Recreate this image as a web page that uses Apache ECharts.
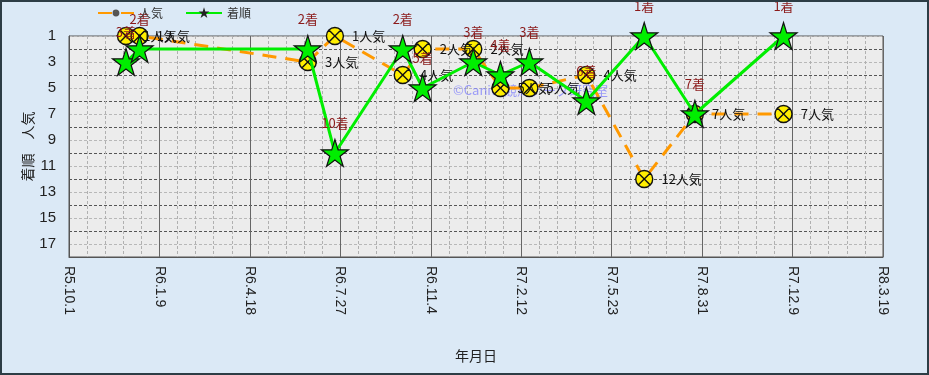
<!DOCTYPE html>
<html><head><meta charset="utf-8">
<script src="https://cdn.jsdelivr.net/npm/echarts@6/dist/echarts.min.js"></script>
<style>html,body{margin:0;padding:0;background:#dbe9f6;}#c{width:929px;height:375px;}</style>
</head><body><div id="c"></div>
<script>
const raceDates = ['2023-12-03','2023-12-18','2024-06-21','2024-07-21','2024-10-04','2024-10-26','2024-12-21','2025-01-20','2025-02-21','2025-04-25','2025-06-28','2025-08-23','2025-11-29'];
const finishPos = [3,2,2,10,2,5,3,4,3,6,1,7,1];
const popularity = [1,1,3,1,4,2,2,5,5,4,12,7,7];
const axisStart = '2023-10-01';
const axisDays = 900;
const tickStepDays = 100;
const yTicks = [1,3,5,7,9,11,13,15,17];
const seriesNames = ['人気','着順'];

const DAY = 86400000;
function utc(s){const p=s.split('-').map(Number);return Date.UTC(p[0],p[1]-1,p[2]);}
const t0 = utc(axisStart);
function dayOff(s){return Math.round((utc(s)-t0)/DAY);}
function fmtDate(v){const d=new Date(t0+v*DAY);return 'R'+(d.getUTCFullYear()-2018)+'.'+(d.getUTCMonth()+1)+'.'+d.getUTCDate();}

const starPath = 'path://M10,0 L12.245,6.91 L19.511,6.91 L13.633,11.18 L15.878,18.09 L10,13.82 L4.122,18.09 L6.367,11.18 L0.489,6.91 L7.755,6.91 Z';
const crossCircle = 'path://M10,0 A10,10 0 1,1 10,20 A10,10 0 1,1 10,0 Z M2.93,2.93 L17.07,17.07 M17.07,2.93 L2.93,17.07';

const popData = raceDates.map((d,i)=>[dayOff(d),popularity[i]]);
const finData = raceDates.map((d,i)=>[dayOff(d),finishPos[i]]);

const chart = echarts.init(document.getElementById('c'));
chart.setOption({
  backgroundColor:'#dbe9f6',
  animation:false,
  textStyle:{fontFamily:'"Noto Sans CJK JP", sans-serif'},
  graphic:[
    {type:'rect',shape:{x:1,y:1,width:927,height:373},style:{fill:'none',stroke:'#2d3d45',lineWidth:2},z:100},
    {type:'text',left:453,top:84,style:{text:'©Caniの競馬データ研究室',fill:'rgba(110,110,255,0.65)',font:'13px "Noto Sans CJK JP"'},z:1}
  ],
  legend:{
    left:92, top:2, itemWidth:36, itemHeight:6, itemGap:22,
    textStyle:{color:'#333',fontSize:12},
    data:[{name:seriesNames[0],itemStyle:{color:'#b8b020',borderColor:'#555'}},{name:seriesNames[1],itemStyle:{color:'#222',borderColor:'#222'}}]
  },
  grid:{left:69,right:46,top:36,bottom:118,show:true,backgroundColor:'#ececec',borderColor:'#555',borderWidth:1},
  xAxis:{
    type:'value', min:0, max:axisDays, interval:tickStepDays,
    name:'年月日', nameLocation:'middle', nameGap:92, nameMoveOverlap:false,
    nameTextStyle:{color:'#222',fontSize:14},
    axisLine:{lineStyle:{color:'#555'}},
    axisTick:{show:false},
    axisLabel:{rotate:-90, margin:9, color:'#222', fontSize:14, fontFamily:'"Liberation Sans", Arial', formatter:v=>fmtDate(v)},
    splitLine:{show:true,lineStyle:{color:'#666',width:1}},
    minorTick:{show:false,splitNumber:5},
    minorSplitLine:{show:true,lineStyle:{color:'#b0b0b0',type:[3,2]}}
  },
  yAxis:{
    type:'value', inverse:true, min:1, max:18, interval:1,
    name:'着順　人気', nameLocation:'middle', nameGap:34, nameMoveOverlap:false,
    nameTextStyle:{color:'#222',fontSize:14},
    axisLine:{show:true,lineStyle:{color:'#555'}},
    axisTick:{show:false},
    axisLabel:{margin:13,color:'#222',fontSize:15,fontFamily:'"Liberation Sans Narrow","Liberation Sans",Arial',
      formatter:v=>{const r=Math.round(v);return (Math.abs(v-r)<1e-6 && yTicks.indexOf(r)>=0)?String(r):'';}},
    splitLine:{show:true,lineStyle:{color:['#b8b8b8','#555'],type:[3,2]}}
  },
  series:[
    {
      name:seriesNames[0], type:'line', data:popData,
      symbol:crossCircle, symbolSize:17,
      itemStyle:{color:'#ffee00',borderColor:'#111',borderWidth:1.4},
      lineStyle:{color:'#ff9900',width:3,type:[14,9]},
      label:{show:true,position:'right',distance:8,color:'#111',fontSize:13,formatter:p=>p.value[1]+'人気'},
      z:2
    },
    {
      name:seriesNames[1], type:'line', data:finData,
      symbol:starPath, symbolSize:27,
      itemStyle:{color:'#00ee00',borderColor:'#111',borderWidth:1.2},
      lineStyle:{color:'#00ee00',width:3},
      label:{show:true,position:'top',distance:9,color:'#8b1a1a',fontSize:13,formatter:p=>p.value[1]+'着'},
      z:3
    }
  ]
});
</script></body></html>
